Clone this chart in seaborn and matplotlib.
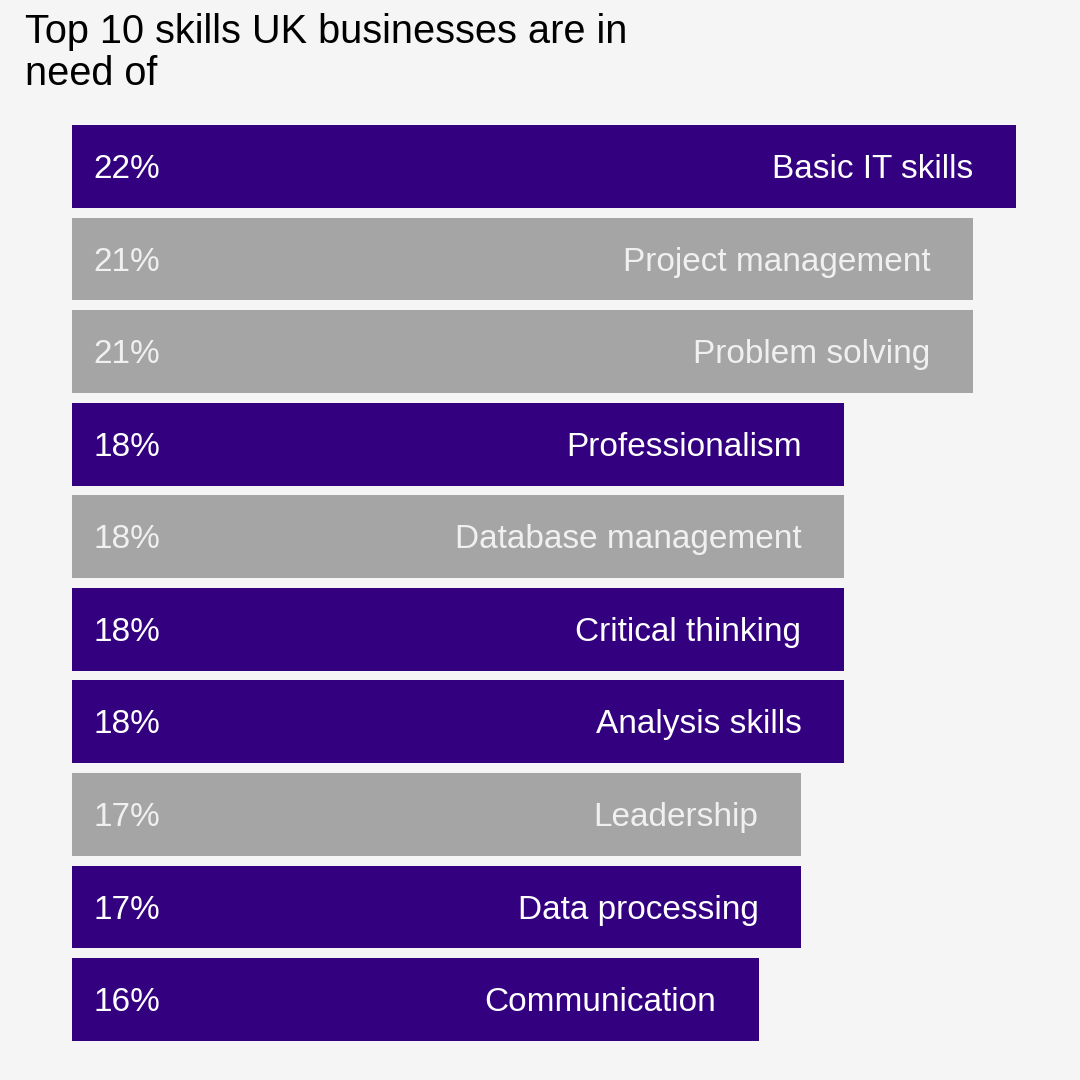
import pandas as pd
import seaborn as sns
import matplotlib.pyplot as plt

# chart values
skills = ["Basic IT skills", "Project management", "Problem solving", "Professionalism",
          "Database management", "Critical thinking", "Analysis skills", "Leadership",
          "Data processing", "Communication"]
percent = [22, 21, 21, 18, 18, 18, 18, 17, 17, 16]
group = ["purple", "grey", "grey", "purple", "grey", "purple", "purple", "grey", "purple", "purple"]
title_lines = ["Top 10 skills UK businesses are in", "need of"]

colours = {"purple": "#330080", "grey": "#a5a5a5"}
text_colours = {"purple": "#ffffff", "grey": "#f0f0f0"}

df = pd.DataFrame({"skill": skills, "percent": percent, "group": group})

sns.set_style("white")
plt.rcParams["font.family"] = ["Liberation Sans", "DejaVu Sans"]

fig = plt.figure(figsize=(10.8, 10.8), dpi=100)
fig.patch.set_facecolor("#f5f5f5")
ax = fig.add_axes([72 / 1080, 1 - 1045.8 / 1080, (1016 - 72) / 1080, 925.6 / 1080])
ax.set_facecolor("#f5f5f5")

sns.barplot(data=df, x="percent", y="skill", hue="group", palette=colours,
            dodge=False, width=0.895, legend=False, ax=ax, saturation=1, linewidth=0)

ax.set_xlim(0, 22)
ax.set_ylim(9.5, -0.5)
ax.set_xticks([])
ax.set_yticks([])
ax.set_xlabel("")
ax.set_ylabel("")
for s in ax.spines.values():
    s.set_visible(False)

# labels inside bars (baseline placed so the caps sit centred on the bar)
for i, row in df.iterrows():
    c = text_colours[row["group"]]
    ax.text(0.5, i + 0.125, f"{row['percent']}%", va="baseline", ha="left", color=c, fontsize=24)
    ax.text(row["percent"] - 1, i + 0.125, row["skill"], va="baseline", ha="right", color=c, fontsize=24)

# title, two lines
fig.text(25 / 1080, 1 - 43 / 1080, title_lines[0], ha="left", va="baseline", fontsize=28.6, color="#000000")
fig.text(25 / 1080, 1 - 85 / 1080, title_lines[1], ha="left", va="baseline", fontsize=28.6, color="#000000")

fig.savefig("out.png", dpi=100, facecolor=fig.get_facecolor())
